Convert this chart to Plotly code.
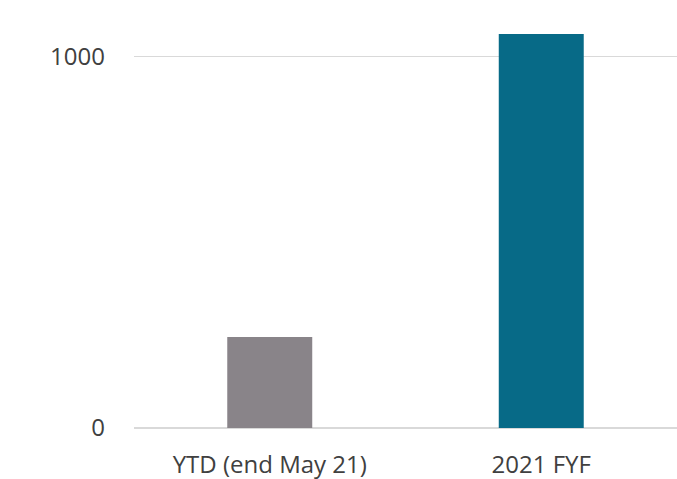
import plotly.graph_objects as go

categories = ["YTD (end May 21)", "2021 FYF"]
values = [245, 1062]
colors = ["#898489", "#076A87"]
tick_vals = [0, 1000]
tick_text = ["0", "1000"]

fig = go.Figure()
fig.add_trace(go.Bar(x=categories, y=values, marker=dict(color=colors, line=dict(width=0)),
                     width=0.313))

fig.update_layout(
    width=677, height=479,
    margin=dict(l=134, r=0, t=20, b=51),
    paper_bgcolor="white", plot_bgcolor="white",
    showlegend=False,
    font=dict(family="Open Sans", size=24, color="#404040"),
    xaxis=dict(range=[-0.5, 1.5], showgrid=False, showline=False, zeroline=False,
               ticks="", ticklabelstandoff=20, tickfont=dict(size=24)),
    yaxis=dict(range=[0, 1099.7], tickvals=tick_vals, ticktext=tick_text,
               showgrid=True, gridcolor="#D9D9D9", gridwidth=1.3,
               zeroline=True, zerolinecolor="#D9D9D9", zerolinewidth=1.5,
               showline=False, ticks="", ticklabelstandoff=28, tickfont=dict(size=24)),
)

fig.write_html("out.html", config={"displayModeBar": False},
               post_script="document.body.style.margin='0px';document.body.style.overflow='hidden';")
